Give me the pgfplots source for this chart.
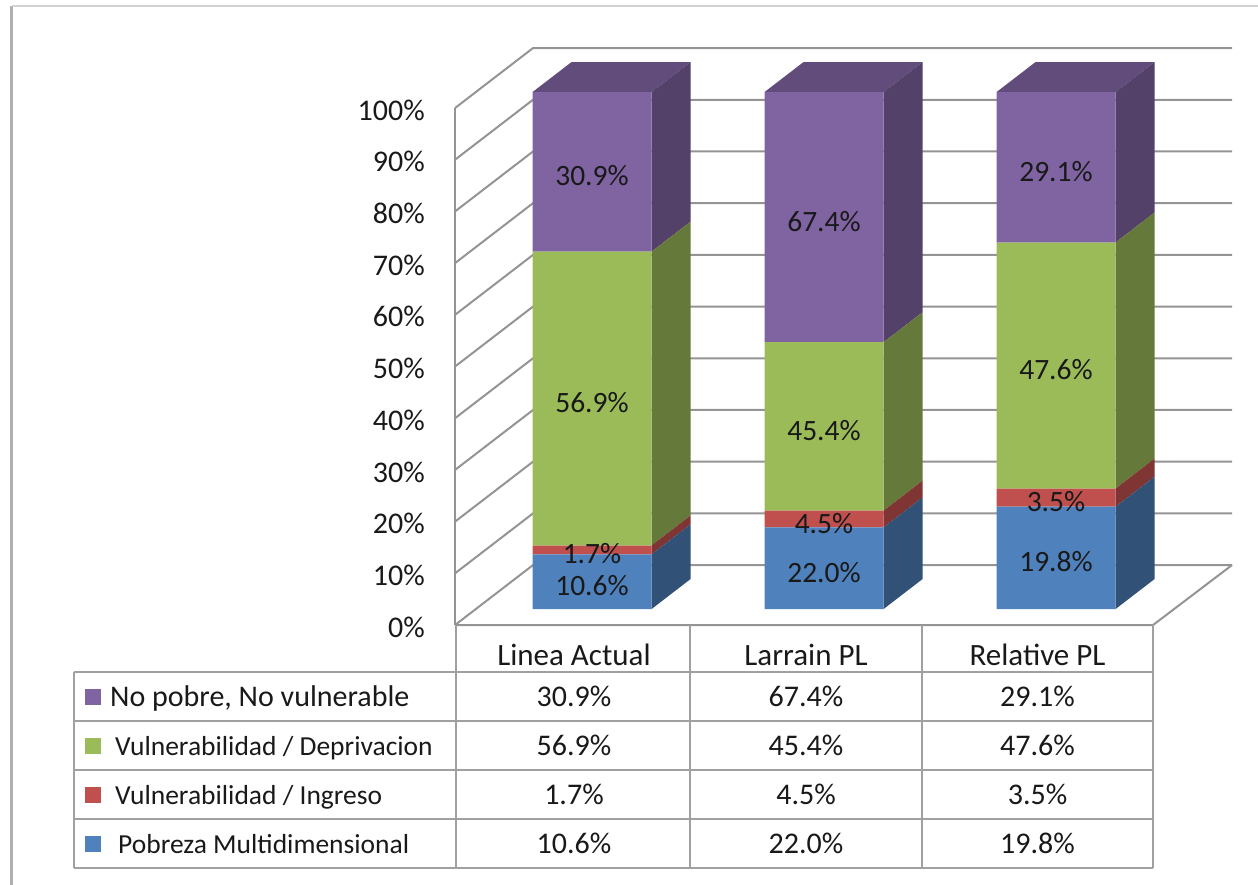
\documentclass[border=0pt]{standalone}
\usepackage{fontspec}
\setmainfont{Carlito}
\usepackage{pgfplots}
\usepackage{pgfplotstable}
\pgfplotsset{compat=1.18}
\definecolor{bluF}{HTML}{4F81BD}
\definecolor{redF}{HTML}{C0504D}
\definecolor{grnF}{HTML}{9BBB59}
\definecolor{purF}{HTML}{8064A2}
\colorlet{bluS}{bluF!63!black}
\colorlet{redS}{redF!66!black}
\colorlet{grnS}{grnF!65!black}
\colorlet{purS}{purF!65!black}
\colorlet{purT}{purF!76!black}
\definecolor{gridc}{RGB}{148,148,148}
\definecolor{tabc}{RGB}{160,160,160}
\definecolor{txt}{RGB}{25,25,25}
\newcommand\fs[1]{\fontsize{#1}{#1}\selectfont}

% raw values (percent-stacked chart: each bar normalised by its total)
\pgfplotstableread{
x    blue red green purple tot
592  10.6 1.7 56.9  30.9   100.1
824  22.0 4.5 45.4  67.4   139.3
1056 19.8 3.5 47.6  29.1   100.0
}\bars
% side faces of the 3-D bars, one small table per bar
\pgfplotstableread{
x      b    v1   v2  v3   v4   t
651.5  3.09 10.6 1.7 56.9 30.9 100.1
690.5  8.89 10.6 1.7 56.9 30.9 100.1
}\sidesA
\pgfplotstableread{
x      b    v1   v2  v3   v4   t
883.5  3.09 22.0 4.5 45.4 67.4 139.3
922.5  8.89 22.0 4.5 45.4 67.4 139.3
}\sidesB
\pgfplotstableread{
x      b    v1   v2  v3   v4   t
1115.5 3.09 19.8 3.5 47.6 29.1 100.0
1154.5 8.89 19.8 3.5 47.6 29.1 100.0
}\sidesC

\pgfplotsset{
  base/.style={width=777pt, height=517pt, scale only axis,
    xmin=455, xmax=1232, ymin=0, ymax=100, clip=false},
  lbl/.style={draw=none, mark=none, point meta=explicit,
    nodes near coords={\pgfmathprintnumber[fixed,fixed zerofill,precision=1]{\pgfplotspointmeta}\%},
    every node near coord/.append style={anchor=center, yshift=-4pt, text=txt, font=\fs{29.5}}},
}
\newcommand\sideaxis[1]{%
\begin{axis}[base, hide axis, stack plots=y]
\addplot[draw=none] table[x=x, y=b] {#1};
\addplot[fill=bluS, draw=none] table[x=x, y expr=\thisrow{v1}*100/\thisrow{t}] {#1} \closedcycle;
\addplot[fill=redS, draw=none] table[x=x, y expr=\thisrow{v2}*100/\thisrow{t}] {#1} \closedcycle;
\addplot[fill=grnS, draw=none] table[x=x, y expr=\thisrow{v3}*100/\thisrow{t}] {#1} \closedcycle;
\addplot[fill=purS, draw=none] table[x=x, y expr=\thisrow{v4}*100/\thisrow{t}] {#1} \closedcycle;
\end{axis}}

\begin{document}
\begin{tikzpicture}
% ---------- background: walls, grid, table ----------
\begin{axis}[base,
  axis x line=none, axis y line*=left,
  y axis line style={draw=none},
  ytick={0,10,...,100},
  yticklabels={0\%,10\%,20\%,30\%,40\%,50\%,60\%,70\%,80\%,90\%,100\%},
  major tick length=0pt,
  yticklabel style={anchor=east, inner sep=0pt, xshift=-30pt, yshift=-2pt, font=\fs{30}, text=txt},
]
\coordinate (BL) at (axis cs:0,-50.1);
\coordinate (TR) at (axis cs:1258,120.9);
% outer frame
\addplot[draw={rgb,255:red,175;green,175;blue,175}, line width=3pt] coordinates {(12,119.73) (12,-50.3)};
\addplot[draw={rgb,255:red,210;green,210;blue,210}, line width=2.5pt] coordinates {(12,119.73) (1258,119.73)};
% walls gridlines
\addplot[draw=gridc, line width=2pt, unbounded coords=jump] coordinates {
 (455,0) (533,11.6) (1232,11.6) (nan,nan)
 (455,10) (533,21.6) (1232,21.6) (nan,nan)
 (455,20) (533,31.6) (1232,31.6) (nan,nan)
 (455,30) (533,41.6) (1232,41.6) (nan,nan)
 (455,40) (533,51.6) (1232,51.6) (nan,nan)
 (455,50) (533,61.6) (1232,61.6) (nan,nan)
 (455,60) (533,71.6) (1232,71.6) (nan,nan)
 (455,70) (533,81.6) (1232,81.6) (nan,nan)
 (455,80) (533,91.6) (1232,91.6) (nan,nan)
 (455,90) (533,101.6) (1232,101.6) (nan,nan)
 (455,100) (533,111.6) (1232,111.6)};
\addplot[draw=gridc, line width=2pt] coordinates {(455,100) (455,0)};
\addplot[draw=gridc, line width=2pt] coordinates {(455,0) (1153,0) (1232,11.6)};
% data table grid
\addplot[draw=tabc, line width=2pt, unbounded coords=jump] coordinates {
 (74,-9.09) (1153,-9.09) (nan,nan)
 (74,-18.57) (1153,-18.57) (nan,nan)
 (74,-28.05) (1153,-28.05) (nan,nan)
 (74,-37.52) (1153,-37.52) (nan,nan)
 (74,-47.0) (1153,-47.0) (nan,nan)
 (74,-9.09) (74,-47.0) (nan,nan)
 (456,0) (456,-47.0) (nan,nan)
 (690,0) (690,-47.0) (nan,nan)
 (922,0) (922,-47.0) (nan,nan)
 (1153,0) (1153,-47.0)};
% top faces of the bars (100% level)
\addplot[fill=purT, draw=none] coordinates {(532.5,103.09) (571.5,108.89) (690.5,108.89) (651.5,103.09)} -- cycle;
\addplot[fill=purT, draw=none] coordinates {(764.5,103.09) (803.5,108.89) (922.5,108.89) (883.5,103.09)} -- cycle;
\addplot[fill=purT, draw=none] coordinates {(996.5,103.09) (1035.5,108.89) (1154.5,108.89) (1115.5,103.09)} -- cycle;
% table text
\node[anchor=base, text=txt, font=\fs{31}] at (axis cs:574,-7.74) {Linea Actual};
\node[anchor=base, text=txt, font=\fs{31}] at (axis cs:806,-7.74) {Larrain PL};
\node[anchor=base, text=txt, font=\fs{31}] at (axis cs:1037.5,-7.74) {Relative PL};
\node[anchor=base west, inner sep=0pt, text=txt, font=\fs{30}] at (axis cs:85,-15.67)
  {\textcolor{purF}{\rule[1.5pt]{16pt}{16pt}}\hspace{9pt}No pobre, No vulnerable};
\node[anchor=base west, inner sep=0pt, text=txt, font=\fs{27.5}] at (axis cs:85,-25.15)
  {\textcolor{grnF}{\rule[1.5pt]{16pt}{16pt}}\hspace{14pt}Vulnerabilidad / Deprivacion};
\node[anchor=base west, inner sep=0pt, text=txt, font=\fs{27.5}] at (axis cs:85,-34.62)
  {\textcolor{redF}{\rule[1.5pt]{16pt}{16pt}}\hspace{14pt}Vulnerabilidad / Ingreso};
\node[anchor=base west, inner sep=0pt, text=txt, font=\fs{27.5}] at (axis cs:85,-44.10)
  {\textcolor{bluF}{\rule[1.5pt]{16pt}{16pt}}\hspace{17pt}Pobreza Multidimensional};
\foreach \xc/\a/\b/\c/\d in {574/30.9/56.9/1.7/10.6, 806/67.4/45.4/4.5/22.0, 1037.5/29.1/47.6/3.5/19.8}{
  \edef\tmp{\noexpand\node[anchor=base, text=txt, font=\noexpand\fs{30}] at (axis cs:\xc,-15.67) {\a\noexpand\%};
    \noexpand\node[anchor=base, text=txt, font=\noexpand\fs{30}] at (axis cs:\xc,-25.15) {\b\noexpand\%};
    \noexpand\node[anchor=base, text=txt, font=\noexpand\fs{30}] at (axis cs:\xc,-34.62) {\c\noexpand\%};
    \noexpand\node[anchor=base, text=txt, font=\noexpand\fs{30}] at (axis cs:\xc,-44.10) {\d\noexpand\%};}
  \tmp
}
\end{axis}
% ---------- side faces ----------
\sideaxis{\sidesA}
\sideaxis{\sidesB}
\sideaxis{\sidesC}
% ---------- front faces ----------
\begin{axis}[base, hide axis, ybar stacked, bar width=119, bar shift=0pt]
\addplot[draw=none, fill=none] table[x=x, y expr=3.09] {\bars};
\addplot[fill=bluF, draw=none] table[x=x, y expr=\thisrow{blue}*100/\thisrow{tot}] {\bars};
\addplot[fill=redF, draw=none] table[x=x, y expr=\thisrow{red}*100/\thisrow{tot}] {\bars};
\addplot[fill=grnF, draw=none] table[x=x, y expr=\thisrow{green}*100/\thisrow{tot}] {\bars};
\addplot[fill=purF, draw=none] table[x=x, y expr=\thisrow{purple}*100/\thisrow{tot}] {\bars};
\end{axis}
% ---------- value labels, centred in each segment ----------
\begin{axis}[base, hide axis, /pgf/number format/assume math mode=true]
\addplot[lbl] table[x=x, y expr=3.09+(\thisrow{blue}/2)*100/\thisrow{tot}, meta=blue] {\bars};
\addplot[lbl] table[x=x, y expr=3.09+(\thisrow{blue}+\thisrow{red}/2)*100/\thisrow{tot}, meta=red] {\bars};
\addplot[lbl] table[x=x, y expr=3.09+(\thisrow{blue}+\thisrow{red}+\thisrow{green}/2)*100/\thisrow{tot}, meta=green] {\bars};
\addplot[lbl] table[x=x, y expr=3.09+(\thisrow{blue}+\thisrow{red}+\thisrow{green}+\thisrow{purple}/2)*100/\thisrow{tot}, meta=purple] {\bars};
\end{axis}
\pgfresetboundingbox
\path[use as bounding box] (BL) rectangle (TR);
\end{tikzpicture}
\end{document}
